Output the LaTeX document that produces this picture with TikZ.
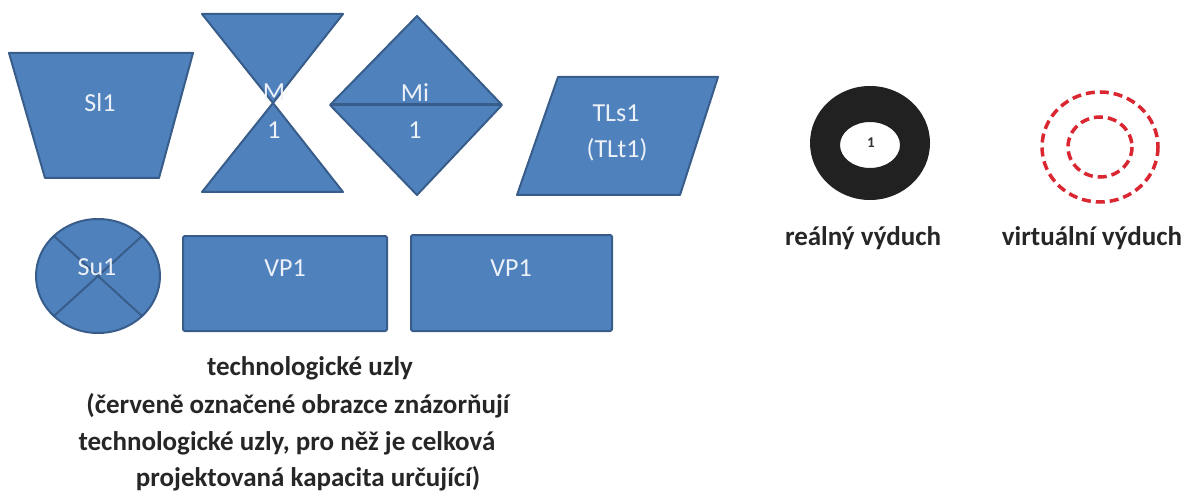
\documentclass[tikz,border=0pt]{standalone}
\usepackage{fontspec}
\setmainfont{Carlito}
\definecolor{nodeblue}{RGB}{79,129,189}
\definecolor{nodeedge}{RGB}{56,93,138}
\definecolor{ventred}{RGB}{218,38,48}
\definecolor{shapetxt}{RGB}{236,241,248}

\begin{document}
\begin{tikzpicture}[x=1pt,y=-1pt,
  blueshape/.style={fill=nodeblue,draw=nodeedge,line width=2pt,line join=round},
  shapetext/.style={text=shapetxt,font=\fontsize{26}{28}\selectfont},
  caption/.style={text=black!85,font=\bfseries\fontsize{27}{30}\selectfont},
  ventdash/.style={draw=ventred,line width=3.5pt,dash pattern=on 9pt off 5pt}]
  \useasboundingbox (0,0) rectangle (1196,497);
  % technologicke uzly
  \filldraw[blueshape] (9,53) -- (193,53) -- (159,178) -- (45,178) -- cycle;
  \node[shapetext] (Sl) at (100,103) {Sl1};
  \filldraw[blueshape] (202,14) -- (343,14) -- (273,103) -- cycle;
  \filldraw[blueshape] (273,103) -- (343,192) -- (202,192) -- cycle;
  \node[shapetext] (Mtop) at (274,92) {M};
  \node[shapetext] (Mbot) at (274,130) {1};
  \filldraw[blueshape] (330,105) -- (417,16) -- (502,105) -- (417,195) -- cycle;
  \draw[nodeedge,line width=3pt] (330,105) -- (502,105);
  \node[shapetext] (Mitop) at (415,93) {Mi};
  \node[shapetext] (Mibot) at (415,130) {1};
  \filldraw[blueshape] (558,77) -- (718,77) -- (680,195) -- (517,195) -- cycle;
  \node[shapetext] (TLs) at (616,113) {TLs1};
  \node[shapetext] (TLt) at (617,150) {(TLt1)};
  \filldraw[blueshape] (98,276) ellipse [x radius=62,y radius=57];
  \draw[nodeedge,line width=2pt] (54,236) -- (142,316) (142,236) -- (54,316);
  \node[shapetext] (Su) at (97,267) {Su1};
  \filldraw[blueshape,rounded corners=2pt] (183,236) rectangle (387,331);
  \node[shapetext] (VPa) at (285,268) {VP1};
  \filldraw[blueshape,rounded corners=2pt] (411,235) rectangle (612,331);
  \node[shapetext] (VPb) at (511,268) {VP1};
  \node[caption] (tu1) at (310,368) {technologické uzly};
  \node[caption] (tu2) at (298,406) {(červeně označené obrazce znázorňují};
  \node[caption] (tu3) at (287,443) {technologické uzly, pro něž je celková};
  \node[caption] (tu4) at (308,479) {projektovaná kapacita určující)};
  % vyduchy
  \fill[black!87,even odd rule] (870,143) ellipse [x radius=60,y radius=57]
    (870,145) ellipse [x radius=30,y radius=23];
  \node[text=black!80,font=\bfseries\fontsize{15}{16}\selectfont] (one) at (871,143) {1};
  \node[caption] (real) at (863,238) {reálný výduch};
  \draw[ventdash] (1100,147) ellipse [x radius=58,y radius=55];
  \draw[ventdash] (1100,147) ellipse [x radius=32,y radius=30];
  \node[caption] (virt) at (1092,238) {virtuální výduch};
\end{tikzpicture}
\end{document}
